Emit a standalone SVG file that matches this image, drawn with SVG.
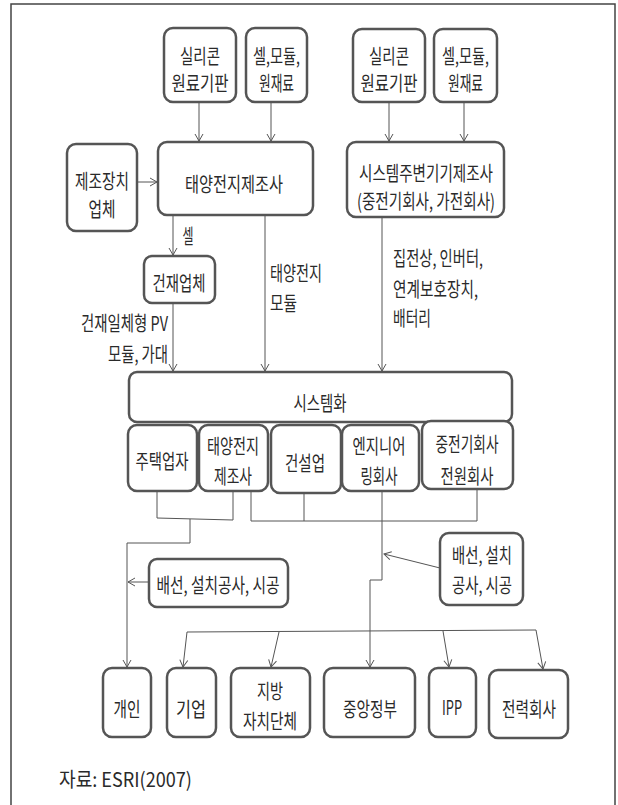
<svg xmlns="http://www.w3.org/2000/svg" width="618" height="805" viewBox="0 0 618 805">
<defs>
<marker id="ah" markerUnits="userSpaceOnUse" markerWidth="12" markerHeight="12" refX="8" refY="5" orient="auto">
<path d="M1,1 L8,5 L1,9" fill="none" stroke="#555" stroke-width="1"/>
</marker>
<style>
.box{fill:#fff;stroke:#555;stroke-width:2.5}
.t{font-family:"Noto Sans CJK KR","Noto Sans",sans-serif;font-size:20px;fill:#2a2a2a;dominant-baseline:central;text-anchor:middle}
.l{text-anchor:start}
.r{text-anchor:end}
.c{fill:none;stroke:#555;stroke-width:1}
.a{marker-end:url(#ah)}
</style>
</defs>
<rect width="618" height="805" fill="#fff"/>
<path d="M11,805 V4 H615 V805" fill="none" stroke="#444" stroke-width="1.5"/>

<g id="connectors">
<path class="c a" d="M199,102 V141"/>
<path class="c a" d="M271,102 V141"/>
<path class="c a" d="M389,102 V141"/>
<path class="c a" d="M464,102 V141"/>
<path class="c a" d="M137,182 H157"/>
<path class="c a" d="M173,215 V255"/>
<path class="c a" d="M173,303 V371"/>
<path class="c a" d="M265,215 V371"/>
<path class="c a" d="M382,217 V371"/>
<path class="c" d="M157,491 V518 L233,520 M233,491 V520"/>
<path class="c a" d="M190,519 V543 H127 V667"/>
<path class="c" d="M251,491 V521 H477 V489 M304,493 V521"/>
<path class="c a" d="M382,491 V580 H370 V667"/>
<path class="c a" d="M440,568 L384,554"/>
<path class="c a" d="M149,582 H128"/>
<path class="c" d="M187,632 L536,630"/>
<path class="c a" d="M187,632 L183,667"/>
<path class="c a" d="M279,632 L271,667"/>
<path class="c a" d="M443,631 L449,667"/>
<path class="c a" d="M536,630 L543,669"/>
</g>

<g id="n_silicon1"><rect class="box" x="164" y="28" width="72" height="74" rx="9"/>
<text class="t" x="200" y="55" textLength="40" lengthAdjust="spacingAndGlyphs">실리콘</text>
<text class="t" x="200" y="82" textLength="57" lengthAdjust="spacingAndGlyphs">원료기판</text></g>
<g id="n_cell1"><rect class="box" x="246" y="28" width="61" height="74" rx="9"/>
<text class="t" x="276.5" y="55" textLength="47" lengthAdjust="spacingAndGlyphs">셀,모듈,</text>
<text class="t" x="276.5" y="82" textLength="35" lengthAdjust="spacingAndGlyphs">원재료</text></g>
<g id="n_silicon2"><rect class="box" x="353" y="29" width="72" height="73" rx="9"/>
<text class="t" x="389" y="55" textLength="40" lengthAdjust="spacingAndGlyphs">실리콘</text>
<text class="t" x="389" y="82" textLength="57" lengthAdjust="spacingAndGlyphs">원료기판</text></g>
<g id="n_cell2"><rect class="box" x="434" y="29" width="63" height="73" rx="9"/>
<text class="t" x="465.5" y="55" textLength="47" lengthAdjust="spacingAndGlyphs">셀,모듈,</text>
<text class="t" x="465.5" y="82" textLength="35" lengthAdjust="spacingAndGlyphs">원재료</text></g>

<g id="n_equip"><rect class="box" x="67" y="144" width="70" height="87" rx="9"/>
<text class="t" x="102" y="180" textLength="54" lengthAdjust="spacingAndGlyphs">제조장치</text>
<text class="t" x="102" y="208" textLength="27" lengthAdjust="spacingAndGlyphs">업체</text></g>
<g id="n_solarmaker"><rect class="box" x="158" y="142" width="155" height="73" rx="9"/>
<text class="t" x="234" y="183" textLength="98" lengthAdjust="spacingAndGlyphs">태양전지제조사</text></g>
<g id="n_bos"><rect class="box" x="347" y="142" width="157" height="75" rx="9"/>
<text class="t" x="426" y="172" textLength="134" lengthAdjust="spacingAndGlyphs">시스템주변기기제조사</text>
<text class="t" x="426" y="200" textLength="138" lengthAdjust="spacingAndGlyphs">(중전기회사, 가전회사)</text></g>

<g id="labels">
<text class="t" x="188" y="235" textLength="11" lengthAdjust="spacingAndGlyphs">셀</text>
<text class="t r" x="168" y="322" textLength="87" lengthAdjust="spacingAndGlyphs">건재일체형 PV</text>
<text class="t r" x="168" y="353" textLength="60" lengthAdjust="spacingAndGlyphs">모듈, 가대</text>
<text class="t l" x="270" y="272" textLength="52" lengthAdjust="spacingAndGlyphs">태양전지</text>
<text class="t l" x="270" y="302" textLength="27" lengthAdjust="spacingAndGlyphs">모듈</text>
<text class="t l" x="393" y="257" textLength="90" lengthAdjust="spacingAndGlyphs">집전상, 인버터,</text>
<text class="t l" x="393" y="288" textLength="85" lengthAdjust="spacingAndGlyphs">연계보호장치,</text>
<text class="t l" x="393" y="317" textLength="38" lengthAdjust="spacingAndGlyphs">배터리</text>
</g>

<g id="n_building"><rect class="box" x="144" y="256" width="71" height="47" rx="8"/>
<text class="t" x="179" y="282" textLength="53" lengthAdjust="spacingAndGlyphs">건재업체</text></g>

<g id="n_system"><rect class="box" x="129" y="372" width="383" height="50" rx="8"/>
<text class="t" x="320" y="402" textLength="53" lengthAdjust="spacingAndGlyphs">시스템화</text></g>

<g id="n_housing"><rect class="box" x="128" y="425" width="69" height="66" rx="9"/>
<text class="t" x="162" y="460" textLength="53" lengthAdjust="spacingAndGlyphs">주택업자</text></g>
<g id="n_solarmaker2"><rect class="box" x="199" y="425" width="69" height="66" rx="9"/>
<text class="t" x="233" y="445" textLength="52" lengthAdjust="spacingAndGlyphs">태양전지</text>
<text class="t" x="233" y="475" textLength="38" lengthAdjust="spacingAndGlyphs">제조사</text></g>
<g id="n_construction"><rect class="box" x="271" y="425" width="70" height="68" rx="9"/>
<text class="t" x="305" y="462" textLength="40" lengthAdjust="spacingAndGlyphs">건설업</text></g>
<g id="n_engineering"><rect class="box" x="342" y="425" width="77" height="66" rx="9"/>
<text class="t" x="379" y="445" textLength="53" lengthAdjust="spacingAndGlyphs">엔지니어</text>
<text class="t" x="379" y="475" textLength="37" lengthAdjust="spacingAndGlyphs">링회사</text></g>
<g id="n_heavyelec"><rect class="box" x="422" y="421" width="91" height="68" rx="9"/>
<text class="t" x="467" y="443" textLength="63" lengthAdjust="spacingAndGlyphs">중전기회사</text>
<text class="t" x="467" y="475" textLength="53" lengthAdjust="spacingAndGlyphs">전원회사</text></g>

<g id="n_install1"><rect class="box" x="149" y="559" width="139" height="48" rx="8"/>
<text class="t" x="218" y="584" textLength="123" lengthAdjust="spacingAndGlyphs">배선, 설치공사, 시공</text></g>
<g id="n_install2"><rect class="box" x="440" y="533" width="83" height="72" rx="9"/>
<text class="t" x="482" y="554" textLength="60" lengthAdjust="spacingAndGlyphs">배선, 설치</text>
<text class="t" x="482" y="584" textLength="60" lengthAdjust="spacingAndGlyphs">공사, 시공</text></g>

<g id="n_individual"><rect class="box" x="103" y="668" width="48" height="69" rx="9"/>
<text class="t" x="127" y="708" textLength="27" lengthAdjust="spacingAndGlyphs">개인</text></g>
<g id="n_company"><rect class="box" x="167" y="668" width="49" height="69" rx="9"/>
<text class="t" x="191" y="708" textLength="30" lengthAdjust="spacingAndGlyphs">기업</text></g>
<g id="n_local"><rect class="box" x="231" y="668" width="79" height="69" rx="9"/>
<text class="t" x="270" y="690" textLength="26" lengthAdjust="spacingAndGlyphs">지방</text>
<text class="t" x="270" y="720" textLength="54" lengthAdjust="spacingAndGlyphs">자치단체</text></g>
<g id="n_central"><rect class="box" x="324" y="668" width="91" height="69" rx="9"/>
<text class="t" x="370" y="708" textLength="54" lengthAdjust="spacingAndGlyphs">중앙정부</text></g>
<g id="n_ipp"><rect class="box" x="429" y="668" width="47" height="69" rx="9"/>
<text class="t" x="452" y="706" textLength="20" lengthAdjust="spacingAndGlyphs">IPP</text></g>
<g id="n_power"><rect class="box" x="489" y="670" width="79" height="68" rx="9"/>
<text class="t" x="529" y="708" textLength="54" lengthAdjust="spacingAndGlyphs">전력회사</text></g>

<text class="t l" x="59" y="778" font-size="18" textLength="133" lengthAdjust="spacingAndGlyphs">자료: ESRI(2007)</text>
</svg>
